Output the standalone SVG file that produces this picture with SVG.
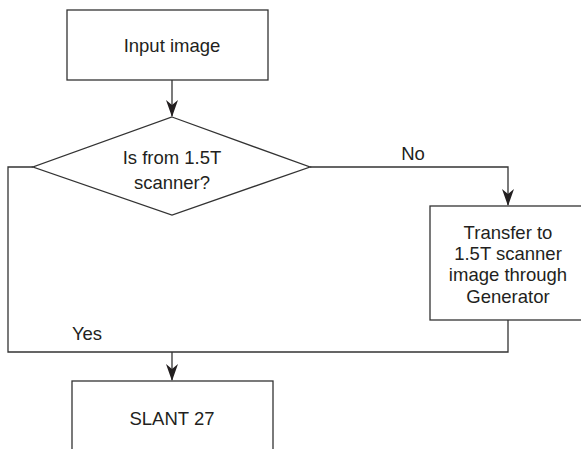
<svg xmlns="http://www.w3.org/2000/svg" width="581" height="449" viewBox="0 0 581 449">
<style>
.box{fill:#fff;stroke:#333;stroke-width:1.3}
.ln{fill:none;stroke:#333;stroke-width:1.3}
.ah{fill:#231f20}
text{font-family:"Liberation Sans",Arial,sans-serif;font-size:18.5px;fill:#231f20;text-anchor:middle}
</style>
<rect width="581" height="449" fill="#fff"/>
<g id="connectors">
<path class="ln" d="M172,80 V116"/>
<path class="ah" d="M166,100 L172,105 L178,100 L172,117 Z"/>
<path class="ln" d="M310,167 H508 V205"/>
<path class="ah" d="M502,189 L508,194 L514,189 L508,206 Z"/>
<path class="ln" d="M33,167 H8 V352 H508 V320"/>
<path class="ln" d="M172,352 V380"/>
<path class="ah" d="M166,364 L172,369 L178,364 L172,381 Z"/>
<text x="413" y="160">No</text>
<text x="87" y="340">Yes</text>
</g>
<g id="input">
<rect class="box" x="67" y="10" width="201" height="70"/>
<text x="172" y="52">Input image</text>
</g>
<g id="decision">
<polygon class="box" points="172,117 310,167 172,215 33,167"/>
<text x="172" y="164">Is from 1.5T</text>
<text x="172" y="189">scanner?</text>
</g>
<g id="transfer">
<rect class="box" x="430" y="206" width="156" height="114"/>
<text x="508" y="239">Transfer to</text>
<text x="508" y="260">1.5T scanner</text>
<text x="508" y="281">image through</text>
<text x="508" y="303">Generator</text>
</g>
<g id="slant">
<rect class="box" x="72" y="381" width="201" height="80"/>
<text x="172" y="425">SLANT 27</text>
</g>
</svg>
